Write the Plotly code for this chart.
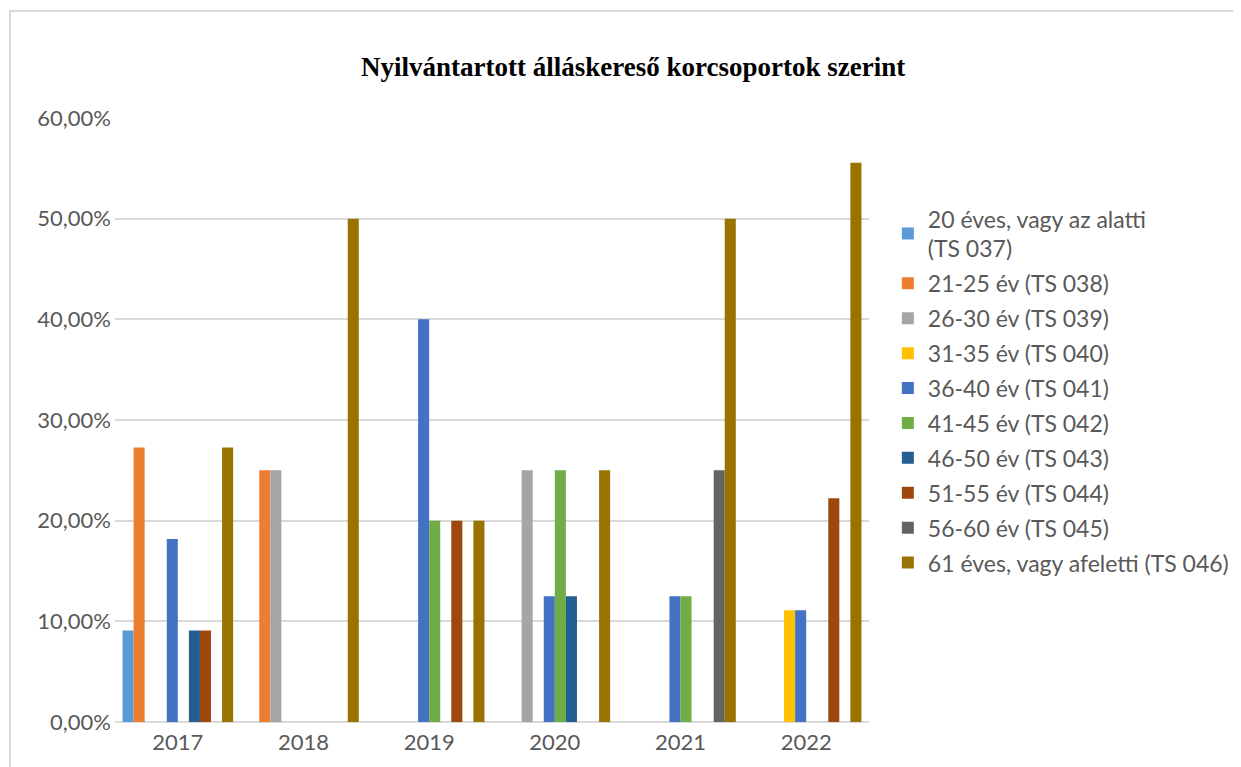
import plotly.graph_objects as go

evek = ["2017", "2018", "2019", "2020", "2021", "2022"]

korcsoportok = [
    "20 éves, vagy az alatti<br>(TS 037)",
    "21-25 év (TS 038)",
    "26-30 év (TS 039)",
    "31-35 év (TS 040)",
    "36-40 év (TS 041)",
    "41-45 év (TS 042)",
    "46-50 év (TS 043)",
    "51-55 év (TS 044)",
    "56-60 év (TS 045)",
    "61 éves, vagy afeletti (TS 046)",
]

ts037 = [0.0909, 0.0, 0.0, 0.0, 0.0, 0.0]
ts038 = [0.2727, 0.25, 0.0, 0.0, 0.0, 0.0]
ts039 = [0.0, 0.25, 0.0, 0.25, 0.0, 0.0]
ts040 = [0.0, 0.0, 0.0, 0.0, 0.0, 0.1111]
ts041 = [0.1818, 0.0, 0.40, 0.125, 0.125, 0.1111]
ts042 = [0.0, 0.0, 0.20, 0.25, 0.125, 0.0]
ts043 = [0.0909, 0.0, 0.0, 0.125, 0.0, 0.0]
ts044 = [0.0909, 0.0, 0.20, 0.0, 0.0, 0.2222]
ts045 = [0.0, 0.0, 0.0, 0.0, 0.25, 0.0]
ts046 = [0.2727, 0.50, 0.20, 0.25, 0.50, 0.5556]

sorozatok = [ts037, ts038, ts039, ts040, ts041, ts042, ts043, ts044, ts045, ts046]

szinek = ["#5B9BD5", "#ED7D31", "#A5A5A5", "#FFC000", "#4472C4",
          "#70AD47", "#255E91", "#9E480E", "#636363", "#997300"]

fig = go.Figure()
for i, (nev, ertekek, szin) in enumerate(zip(korcsoportok, sorozatok, szinek)):
    fig.add_trace(go.Bar(
        x=evek,
        y=ertekek,
        name=nev,
        legendgroup=f"g{i}",  # külön csoport -> tracegroupgap adja a sorközt
        marker_color=szin,
        marker_line_width=0,
        hovertemplate="%{x}: %{y:.2%}<extra></extra>",
    ))

szurke = "#595959"

# a böngésző 8px body-margót tesz a figura köré, ezért 1233x759
fig.update_layout(
    width=1233,
    height=759,
    paper_bgcolor="white",
    plot_bgcolor="white",
    separators=", ",
    barmode="group",
    bargap=0.12,
    bargroupgap=0,
    margin=dict(l=107, r=372, t=110, b=45, autoexpand=False),
    title=dict(
        text="<b>Nyilvántartott álláskereső korcsoportok szerint</b>",
        x=0.507,
        xanchor="center",
        y=0.923,
        yanchor="middle",
        font=dict(family="Liberation Serif", size=27, color="black"),
    ),
    font=dict(family="Lato", size=22, color=szurke),
    legend=dict(
        x=1.025,
        xanchor="left",
        y=0.869,
        yanchor="top",
        font=dict(family="Lato", size=23, color=szurke),
        tracegroupgap=2,
        itemclick=False,
    ),
    xaxis=dict(
        showgrid=False,
        showline=False,
        ticks="",
        ticklabelstandoff=5,
        tickfont=dict(size=22, color=szurke),
    ),
    yaxis=dict(
        range=[0, 0.6],
        dtick=0.1,
        tickformat=".2%",
        showgrid=True,
        gridcolor="#D9D9D9",
        gridwidth=2,
        zeroline=True,
        zerolinecolor="#D9D9D9",
        zerolinewidth=2,
        ticks="",
        ticklabelstandoff=3,
        tickfont=dict(size=22, color=szurke),
    ),
    shapes=[dict(
        type="rect",
        xref="paper",
        yref="paper",
        x0=-0.1393,
        x1=2.0,
        y0=-0.5,
        y1=1.177,
        line=dict(color="#D9D9D9", width=2),
        layer="below",
    )],
)

fig.write_html("out.html")
